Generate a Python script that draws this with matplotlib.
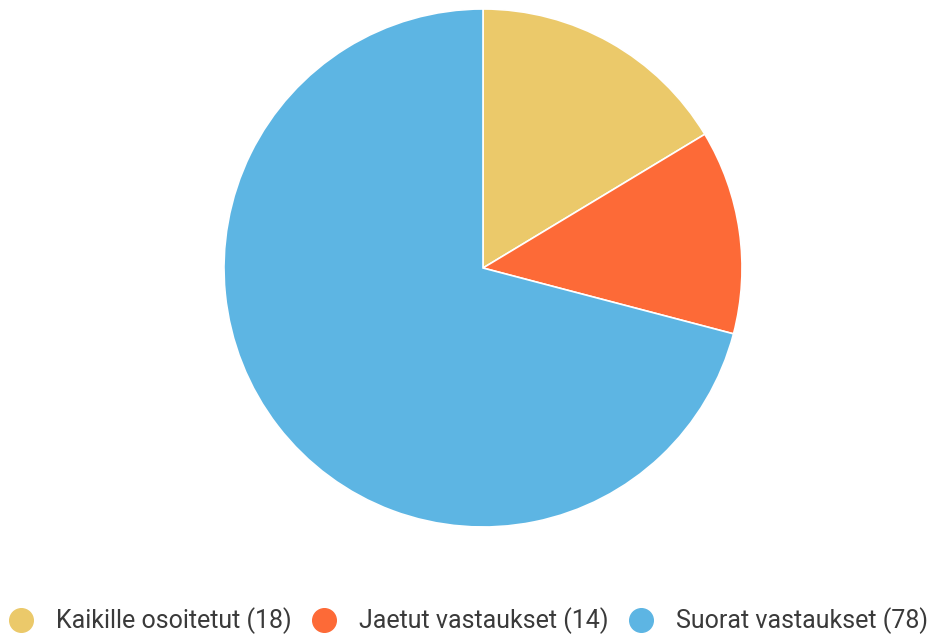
import matplotlib.pyplot as plt
from matplotlib.lines import Line2D

labels = ["Kaikille osoitetut", "Jaetut vastaukset", "Suorat vastaukset"]
values = [18, 14, 78]
colors = ["#ebc96a", "#fd6a37", "#5db5e3"]

plt.rcParams['font.family'] = ['Roboto', 'DejaVu Sans']

fig = plt.figure(figsize=(9.36, 6.39), dpi=100)
W, H = 936, 639
# pie area in pixels: left 224, top 9, size 518
ax = fig.add_axes([224 / W, (H - 527) / H, 518 / W, 518 / H])
ax.pie(values, colors=colors, startangle=90, counterclock=False, radius=1,
       wedgeprops=dict(edgecolor="white", linewidth=1.2))
ax.set_xlim(-1.0, 1.0)
ax.set_ylim(-1.0, 1.0)
ax.set_aspect("equal")

handles = [Line2D([], [], marker="o", linestyle="", markersize=17,
                  markerfacecolor=c, markeredgecolor=c) for c in colors]
texts = [f"{l} ({v})" for l, v in zip(labels, values)]
fig.legend(handles, texts, loc="center", bbox_to_anchor=(0.5, 1 - 621 / H),
           ncol=3, frameon=False, fontsize=18, handlelength=1.0,
           handletextpad=0.9, columnspacing=0.8, labelcolor="#3a3a3a")

fig.savefig("out.png", dpi=100, facecolor="white")
